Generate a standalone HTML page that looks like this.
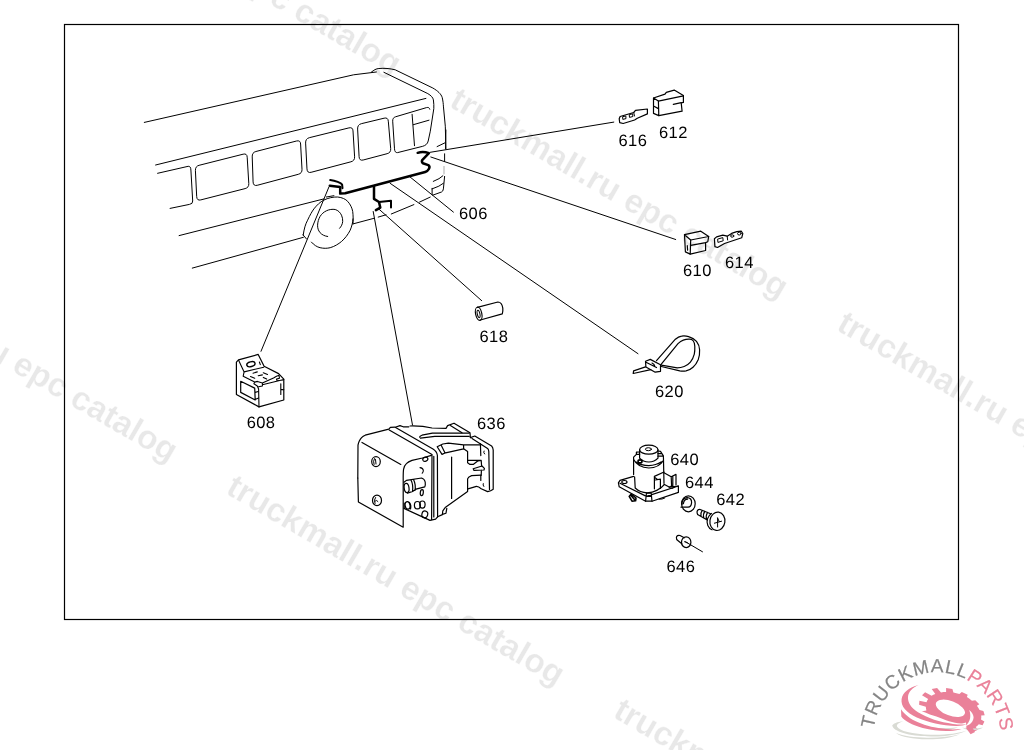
<!DOCTYPE html>
<html><head><meta charset="utf-8"><title>epc catalog</title>
<style>
html,body{margin:0;padding:0;background:#fff;}
body{width:1024px;height:750px;overflow:hidden;position:relative;}
svg{will-change:transform;position:absolute;left:0;top:0;display:block;}
text{text-rendering:geometricPrecision;}
.wm{font-family:"Liberation Sans",sans-serif;font-weight:bold;font-size:33.4px;fill:#e8e8e8;stroke:#fff;stroke-width:0.25px;}
.lb{font-family:"Liberation Sans",sans-serif;font-size:16.5px;fill:#000;letter-spacing:0.4px;}
.ln{fill:none;stroke:#000;stroke-width:1.0;stroke-linecap:round;stroke-linejoin:round;}
.th{fill:none;stroke:#000;stroke-width:2.5;stroke-linecap:round;stroke-linejoin:round;}
.pt{fill:none;stroke:#000;stroke-width:1.2;stroke-linecap:round;stroke-linejoin:round;}
</style></head><body>
<svg width="1024" height="750" viewBox="0 0 1024 750">
<rect x="0" y="0" width="1024" height="750" fill="#fff"/>
<!-- WATERMARKS -->
<g class="wm">
<text transform="translate(448.1,105.7) rotate(30.25)">truckmall.ru epc catalog</text>
<text transform="translate(61.0,-117.8) rotate(30.25)">truckmall.ru epc catalog</text>
<text transform="translate(835.2,329.2) rotate(30.25)">truckmall.ru epc catalog</text>
<text transform="translate(224.6,492.8) rotate(30.25)">truckmall.ru epc catalog</text>
<text transform="translate(-162.5,269.3) rotate(30.25)">truckmall.ru epc catalog</text>
<text transform="translate(611.7,716.3) rotate(30.25)">truckmall.ru epc catalog</text>
</g>
<!-- FRAME -->
<rect x="64.5" y="24.5" width="894" height="595" fill="none" stroke="#000" stroke-width="1.2"/>
<!-- BUS -->
<g class="ln" id="bus">
<path d="M144.3,122.4 L353.6,74.8 L376.4,72"/>
<path d="M371.3,72.2 C374,70 376,68.7 378.9,68.5 C384,68 390,68.5 395.2,69.8 L432.8,88 C438,91 441,94 442.2,97.4 C443,101 443.3,104 443.4,106.1 L445.3,126.2 L445.9,149"/>
<path d="M383.9,72.3 L427.8,93.6 C431,95.5 433,97.5 433.4,99.9 C433.9,103 433.9,106 433.8,108.7 L430.3,131.2 L428.2,141 C427.5,144 425.5,145.5 422.7,146.3 L397.6,152.6 C395.5,152.8 394.7,151.5 394.5,148.8 L392.7,121.2 C392.6,118.5 393.5,117.6 395.5,116.8 L426.5,107.6 C428.5,107.1 429.5,107.8 429.8,109.2"/>
<path d="M412.1,114.3 L414.5,145.7 M413.3,124.7 L429,120.2"/>
<path d="M155.6,165 L425.9,98.4"/>
<path d="M157.6,173.3 L188.2,166.3 Q190.7,166 190.9,170 L192.7,201 Q192.9,204 189.4,204.4 L170.1,208.4"/>
<path d="M195.4,170.3 Q195.2,166.3 199.1,165.3 L243.1,154.2 Q247.0,153.2 247.2,157.2 L248.8,183.6 Q249.0,187.6 245.1,188.6 L200.8,199.9 Q196.9,200.9 196.7,196.9 Z"/>
<path d="M252.2,156.5 Q252.0,152.5 255.9,151.5 L296.5,141.0 Q300.4,140.0 300.6,144.0 L302.0,169.3 Q302.2,173.3 298.3,174.3 L257.2,185.3 Q253.3,186.3 253.1,182.3 Z"/>
<path d="M305.6,142.7 Q305.4,138.7 309.3,137.7 L348.9,127.9 Q352.8,126.9 353.0,130.9 L354.6,156.8 Q354.8,160.8 350.9,161.8 L311.1,172.3 Q307.2,173.3 307.0,169.3 Z"/>
<path d="M357.6,128.7 Q357.4,124.7 361.3,123.7 L384.1,118.2 Q388.0,117.2 388.3,121.2 L390.7,148.7 Q391.0,152.7 387.1,153.7 L363.2,160.0 Q359.3,161.0 359.1,157.0 Z"/>
<path d="M445.9,130 L445.6,148.8 M437.1,146.6 L445,142.8 M444.6,153.8 L444.6,161.3 M444.6,176.4 L443.4,188.9 Q443,191.5 441.5,192 L432.7,195.2"/>
<path d="M444,166.4 L444,173.9" stroke="#aaa"/>
<path d="M433.3,181.4 Q440,178.8 442.9,175.8 M432.1,188.9 Q440,186.3 443.4,183.3 M432.1,188.3 L432.1,194.6"/>
<path d="M430.2,197.1 L419.5,202.1 M413.9,204.6 L391.3,214 M386,214.8 L378.2,217.1 M374,218.3 L353,223.9"/>
<path d="M179.1,235.6 L323.9,198.9 M326.4,197 L333.9,195.7"/>
<path d="M192.3,268.1 L303.4,237.3 M303,234.8 L306.5,239"/>
<path d="M303.2,235.2 C304,229 305.5,224 307.6,220.2 C310,215 312,211.5 313.9,208.9 C317,205 320,202 323.9,200.1 C328,198 333,196.8 337.7,197 C342,197.5 345.5,199 347.7,201.4 C350.5,204.5 352,208 352.7,211.4 C353.3,216 353.2,220 353,223.9"/>
<path d="M311.4,242.1 C314,245 317,247 320.1,247.7 C323.5,248.5 327,248.5 330.2,247.7 C334.5,246.5 338.5,244 341.5,241.5 C345,238.5 348,234.5 350.2,230.2 C352,226 352.8,222 353,218.9"/>
<path d="M327.7,236.5 C324.5,236 322,234.8 320.1,232.7 C318.3,230.5 317.5,228 317.6,225.2 C317.7,222 318.6,219 320.1,216.4 C321.6,214 323.8,212 326.4,210.8 C329,209.5 332.5,209 335.2,209.5 C338,210.3 340.3,212.5 341.5,215.2 C342.4,217.2 342.8,219.3 342.7,221.4 C342.5,224 341.3,226.5 339.6,228.3"/>
</g>
<!-- HARNESS -->
<g class="th" id="harness">
<path d="M417.7,152.8 C421,151.6 426,152 428.9,153.2 L422.2,160.1 C421.6,161.5 422,162.5 422.9,163.2 L428.3,165.1 C429.5,166 429.6,167.8 428.9,168.9 C428,170.5 427,171.5 425.2,172 L345.2,193.3 L340.2,193.6 L340.2,187 L329.8,185.7"/>
<path d="M330.2,180 C333,180.3 335.5,181 337.7,181.9 C340,182.8 341.5,183.5 342.1,184.6 L342.5,188.2" stroke-width="2"/>
<path d="M374,186.3 L374,198.9 L379,202 L380.3,207.6 L375.9,210.1"/>
<path d="M379,202 L391,200.7 L391,207.6" stroke-width="2"/>
</g>
<!-- LEADERS -->
<g class="ln" id="leaders">
<path d="M430.2,152.3 L613.8,122.1"/>
<path d="M430.8,157 L675.7,239.5"/>
<path d="M410.1,177 L453.4,212.1"/>
<path d="M390.1,183.3 L638,353.7"/>
<path d="M378.8,209 L481.7,300.7"/>
<path d="M373.2,211.5 L412.5,425"/>
<path d="M328.9,187 L261,351.3"/>
<path d="M687.2,542.8 L702.5,551.8"/>
</g>
<!-- PARTS -->
<g class="pt" id="parts">
<!-- 612 -->
<path d="M653.5,98 L658.4,101.1 L658.8,115.6 L653.5,113.4 Z M653.5,106 L658.4,108.6"/>
<path d="M658.4,101.1 L683.4,95.8 L683.4,102.4 L681.2,102.9 L682.1,111.2 L658.8,115.6 M673.3,104.4 L681.2,102.7"/>
<path d="M653.5,98 L665,94.1 L666.3,92.3 L674.2,90.1 L683.4,95.6"/>
<!-- 616 -->
<path d="M619.2,118.7 L620.1,116.5 L633.7,112.5 L635.5,110.3 L647.4,109 L647.4,113.9 L637.3,118.3 L634.6,120 L623.2,123.5 L619.7,122.7 Z"/>
<path d="M623,116.6 L625.8,116 L626,118.6 L623.2,119.3 Z M629.6,114.6 L632.6,113.8 L632.9,116.5 L629.9,117.3 Z M633.7,112.5 L634.5,116" stroke-width="1"/>
<!-- 610 -->
<path d="M684.5,234.7 L700.8,231.2 L708.7,236.5 L690.7,240 Z"/>
<path d="M684.5,234.7 L685.4,251.9 L690.2,254.1 L690.7,240 M687.3,245.7 L687.6,250.1"/>
<path d="M708.7,236.5 L707.8,241.7 L705.6,242.6 L705.6,250.5 L690.2,254.1 M690.7,245.3 L705.6,242.6"/>
<!-- 614 -->
<path d="M714.4,238.7 L716.6,236.9 L722.8,235.2 L727.2,236.2 L731.6,233.4 L736.8,231.6 L741.2,231.2 L742.8,233.5 L741.7,237.8 L724.5,243.5 L717.5,247.5 L714.9,246.6 Z"/>
<path d="M718,239 L722.8,237.6 L723.2,240.8 L718.3,242.3 Z M727.2,236.2 L727.6,240" stroke-width="1"/>
<ellipse cx="732.2" cy="236" rx="1.6" ry="1.2" stroke-width="1"/><ellipse cx="739.3" cy="233.6" rx="1.8" ry="1.4" stroke-width="1"/>
<!-- 618 -->
<path d="M477.3,307.3 L497.9,302 C500.5,302 502.3,304.5 502.8,308.1 C503,310.5 502.8,312.5 502.3,313.9 L480.3,320"/>
<ellipse cx="478.7" cy="313.8" rx="3.1" ry="6.7" transform="rotate(-12 478.7 313.8)"/>
<ellipse cx="478.6" cy="313.9" rx="1.3" ry="3.8" transform="rotate(-12 478.6 313.9)" stroke-width="1"/>
<!-- 620 -->
<path d="M656.5,360.7 L675.4,339.2 C677.5,337.3 679.5,336.3 681.6,336.1 C684,335.8 686.5,336 688.6,336.6 C692,337.6 694.8,339.3 696.5,341.4 C698.5,344 699.5,346.8 699.6,349.7 C699.8,353 699.3,356.5 698.3,359.4 C697,362.5 695.3,365.2 693,367.3 C691,369.2 688.7,370.4 686,370.9 C684,371.2 682,371.2 679.8,370.9 L661.3,366.5"/>
<path d="M660.9,364.7 L678,343.6 C679.8,341.8 681.5,340.7 683.3,340.1 C685.3,339.4 687.5,339.1 689.5,339.2 C691,339.3 692.2,339.7 693,340.5 C694.2,342 694.7,344 694.8,346.2 C694.9,349 694.8,351.7 694.3,354.1 C693.5,357.2 692.2,359.9 690.4,362.1 C688.7,364.1 686.6,365.6 684.2,366.5 C682,367.3 679.6,367.8 677.2,367.8 L661.3,365.1"/>
<path d="M645.5,361.2 L650.3,359.4 L660.5,364.7 L660.5,371.3 L655.2,372.2 L645.9,366.9 Z M646.5,362.5 L656.5,367.5 M652,363 Q654.5,364 654.8,366.3"/>
<path d="M645.5,366.9 L633.6,370.9 L633.2,373.5 L650.8,369.6"/>
<!-- 636 -->
<g id="p636">
<path d="M357.8,478 L358,445.2 C358.3,443.5 358.7,442.3 359.2,441.2 C360,439.6 360.7,438.5 361.6,437.6 C362.7,436.5 364,435.7 365.2,435.2 L388.8,429.2 L390.4,427.4 L395.2,427.2 L400,425.6 L403.2,426.8 L408.8,426.8"/>
<path d="M357.8,478 L358.4,502 L403.2,527.2 L403.2,478 C403.2,474 403.3,471 403.6,469.2 C404.2,466.5 405,464.8 406.4,463.6 C408,462 409.8,461.2 412,460.4 L422.4,458 L431.4,455.4"/>
<path d="M362,442.4 L400.8,464.4"/>
<path d="M389.2,430 L432,454.4 M395.6,427.6 L433,449 Q437,451.5 437.4,455.5 L437.6,517"/>
<path d="M432,455.2 L431.6,519.6 M433.8,456.4 L433.8,517" />
<path d="M410,426 C418,425.8 426,426.6 432,428 L446,428.4 L447.6,425.6 L454,423.2 L470,432.8 L470.4,437.6 M450.4,425.6 L462,432.8"/>
<path d="M419.6,437.2 C419.8,435.9 421,435.5 422,435.2 L432.4,433.2 L469.2,433.2 M420.5,438.2 L434.8,436.4 L469.2,436.4"/>
<path d="M470.4,437.6 L474.8,436 L491.6,446 Q493,447.5 493.2,450 L493.2,489.2 Q491,491 487.6,491.6 L481.2,488.8 Q478.5,486.3 476.4,486.4 L468,488.8"/>
<path d="M472,438.4 L487.6,448.4 Q488.7,449.5 488.8,451.6 L489.5,489.5 M480.4,443.6 L480.8,455.6"/>
<path d="M437.2,446.8 L442.8,444 L448.4,443.2 L463.6,444.8 L480.4,444.8 M437.2,446.8 L442,454.4 L445.6,452.8 L463.6,448.8 L463.6,444.8 M441.2,445.2 L444.8,452.4"/>
<path d="M463.6,448.8 L467.6,451.6 L467.6,462.8 L470,464.4 L473.2,464.4 L478,460.8 L481.2,460.4 L481.6,466 M468.4,460.4 L481.2,460.4"/>
<path d="M473.2,468.8 L482,466 L484.4,468.4 L484,470 L474,470.4 Z M481.4,470.2 L481.2,475.2 M480.8,475.2 L480.8,480.4"/>
<path d="M481.2,475.2 L471.6,475.6 Q468,477 467.6,478.8 L467.6,491.6 L445.2,507.6 L442.8,510.8 L442.4,514.4 L446,513.2 L446.8,508.4 M442.4,514.6 L437.6,516.8 L435.6,519.2 L430,520.4 L404,508.4"/>
<path d="M451.6,457.2 L451.6,498.4"/>
<ellipse cx="376" cy="461.6" rx="4.3" ry="5"/><path d="M374.5,458.5 Q372.8,461 374,464.5 M375.5,459.5 L376,464" stroke-width="1"/>
<ellipse cx="377" cy="500.4" rx="4.5" ry="5.2"/><path d="M375.5,497.5 Q373.5,500 375,503.5 M375,501 Q377,499.5 378,501.5" stroke-width="1"/>
<ellipse cx="425.3" cy="459.2" rx="2.6" ry="2" transform="rotate(-20 425.3 459.2)"/>
<path d="M420,467.6 Q423,468 423.3,470.2 Q423.4,472.5 422.2,473.2" stroke-width="1.1"/>
<path d="M404,482.3 L406.4,480.4 L421.6,478 Q424.6,479 425.2,482 Q425.6,485 424.8,486.8 L416,489.2 Q412,492.5 407.5,493.2 M411,480 Q413.5,485 412.5,491.5 M413.5,479.5 Q416,484.5 415,490.5"/>
<ellipse cx="406.6" cy="488" rx="2.4" ry="4.6" transform="rotate(-8 406.6 488)"/>
<ellipse cx="421.8" cy="492.6" rx="1.5" ry="3" transform="rotate(8 421.8 492.6)"/>
<ellipse cx="407.6" cy="505.4" rx="2.4" ry="3.8" transform="rotate(-10 407.6 505.4)"/><path d="M404.2,503 L404.2,508 M409.5,502.5 Q411.5,505 410.5,509"/>
<ellipse cx="417.4" cy="505.2" rx="3" ry="3.7"/><ellipse cx="422.4" cy="504.6" rx="2.7" ry="3.6"/>
<ellipse cx="424.8" cy="514.4" rx="2.9" ry="3.4" transform="rotate(15 424.8 514.4)"/>
<path d="M421.2,470 L423.6,470 L423.6,472.6" stroke-width="1" opacity="0"/>
<path d="M484,451 Q483,452.5 484.6,454 M483.2,483.6 Q482.5,485 483.8,486.5" stroke-width="1"/>
</g>
<!-- 640 -->
<g id="p640">
<ellipse cx="648.8" cy="449.7" rx="9.2" ry="4.5"/>
<ellipse cx="648.4" cy="449.2" rx="3" ry="1.5" stroke-width="1"/>
<path d="M639.6,449.8 L639.6,458.2 Q643,462 648.8,462 Q654.5,462 658,458.2 L658,449.8"/>
<path d="M639.6,452 L636.4,452.2 L636.4,454.4 L633.6,457.2 L633.6,474.4 M636.4,454.4 L639.6,454.4 M658,451 L660.5,451.4 L663.4,455.8 L664,483.2 M658,453.6 L662,453.6 M658,456.2 L663.4,456.2"/>
<path d="M633.6,459.5 Q638,467.6 648.8,468 Q659,467.8 663.4,460.5 M636,462 Q641,465.6 648.8,465.6 Q656,465.5 661.5,461.8"/>
<ellipse cx="640" cy="461.4" rx="2" ry="1.5" stroke-width="1.6"/>
<path d="M634.6,476.8 L635.2,488 Q640,492.6 647.2,492.8 Q652.5,492.6 656.8,490.4 Q661.5,488 664,484.8"/>
<path d="M633.6,476.4 L620,480.4 L618.4,482.8 L619.2,486.8 L645.6,501.2 L652,501.2 L678.4,492.4 L678.4,486 L669.6,487.2 L664,484.2"/>
<path d="M620,483.2 L646.4,496.4 L678.4,486 M646.4,493.2 L651.2,493.2 M646.4,496.4 L651.4,496.4 M646.4,493.2 L645.6,501.2 M651.2,493.2 L652,501.2"/>
<ellipse cx="624.4" cy="482" rx="2.6" ry="1.5"/>
<path d="M654.4,476.4 L654.4,488.8 M654.4,476.4 L664,472 M655.2,480 L660.4,479.2 L660.4,488.4 M654.8,477.5 L657.5,479.5"/>
<path d="M664,472.8 L671.2,476.8 L671.6,486.4 M671.2,476.8 L676,474.4 L676,484.8 M672.8,476 L672.8,486"/>
<ellipse cx="671.6" cy="487.3" rx="2.4" ry="1.1" stroke-width="1"/>
<path d="M629.2,496.4 L631.2,494 L636,498 L635.6,500.8 L632,501.2 Z M631,495.5 L634.5,499.5" stroke-width="1.6"/>
<path d="M659.2,499.2 Q662,499.6 664.8,498" stroke-width="1"/>
</g>
<!-- 644 -->
<ellipse cx="688.4" cy="503.8" rx="6.8" ry="8"/>
<path d="M682,504.6 C681.6,500.8 683.8,497.8 687,497.6 C690.2,497.5 691.8,499.8 691.6,502.6 C691.4,505.2 690.2,507 688,507.2 L681,507.2 M683.4,503.6 C683.8,500.8 685.6,499.2 687.6,499.2"/>
<!-- 642 -->
<ellipse cx="717.4" cy="521.3" rx="7.5" ry="9.2" transform="rotate(8 717.4 521.3)"/>
<path d="M711.5,513.5 C707.5,516 706,521.5 707.8,525.5 C708.8,527.8 710.3,529.2 712,529.8"/>
<path d="M699.6,509.3 L710.6,513.8 M697.6,514.6 L707.2,520 M699.6,509.3 C697.8,509.3 696.8,511 697.1,512.8 C697.3,513.8 697.6,514.3 697.8,514.7 M702.2,510.3 Q700.2,513 701,516.4 M704.8,511.4 Q702.8,514.2 703.8,518 M707.5,512.5 Q705.5,515.4 706.6,519.6"/>
<path d="M717.6,518 L717.6,527 M714.4,523.2 L721.6,521.2 M717.6,518 L719.2,521.5" stroke-width="1"/>
<!-- 646 -->
<ellipse cx="686.2" cy="542.2" rx="4.7" ry="5.4"/>
<path d="M684.3,537.8 L680,535.5 C678.2,534.9 676.6,535.8 676.4,537.5 C676.3,538.9 676.9,539.9 677.8,540.5 L681.8,543.8 M684.8,541.6 L687.2,542.8"/>
<!-- 608 -->
<path d="M236.4,362.1 L238.5,359.9 L258.2,354.4 L264.1,366.3 L278.6,373.6 L283.8,379.1 L283.8,400 L259,406.9 L236.4,394.5 Z"/>
<path d="M238.6,360.3 L244.1,371.9 L263.7,367.2 M244.1,371.9 L243.2,376.2 L254.7,382.1 L253.9,383.8 L257.3,386 L258.6,389 L259,406.9 M262.4,383 L262.4,386 L258.6,386.8 M262.4,384.7 L283.8,379.5 M254.7,382.1 L257.5,381.4 L262.4,383 L273.5,377.9 L276.5,376.2 L279,375.3 L279.5,378.3 L276.5,379.1 L277,380.8 L283.3,380" stroke-width="1.1"/>
<ellipse cx="250.9" cy="364.2" rx="4.2" ry="2.4" transform="rotate(-15 250.9 364.2)" stroke-width="1.4"/>
<path d="M259.4,362 L260.3,364.6" stroke-width="1.1"/>
<path d="M240.7,381.3 L254.7,388.1 L255.2,400 L240.7,392.4 Z M255.2,392.4 L258.2,391.5 M255.6,399.2 L258.6,398"/>
<path d="M253,373.2 L257.3,371.9 M263.3,372.7 L267.5,374.5 M250.5,376.6 L254.7,378.3 M258.2,375.7 L262.4,374.9 M263.3,377.4 L266.7,379.1" stroke-width="1.1"/>
<path d="M280.8,383.8 L280.8,394.5 M280.8,389.4 L283.8,389.8" stroke-width="1.1"/>
</g>
<!-- LABELS -->
<g class="lb" id="labels">
<text x="459" y="218.7">606</text>
<text x="618.5" y="145.6">616</text>
<text x="659" y="137.8">612</text>
<text x="683" y="275.6">610</text>
<text x="725" y="267.7">614</text>
<text x="479.5" y="341.6">618</text>
<text x="655" y="397">620</text>
<text x="246.7" y="428">608</text>
<text x="477" y="428.7">636</text>
<text x="670.3" y="464.5">640</text>
<text x="685" y="487.5">644</text>
<text x="716.3" y="504.5">642</text>
<text x="666.5" y="571.5">646</text>
</g>
<!-- LOGO -->
<g id="logo">
<path id="arc" d="M873.2,737.3 A63.8,65 0 0 1 1000.8,737.3" fill="none"/>
<path d="M977.4,725.7 L975.7,727.1 L977.9,729.7 L973.5,731.8 L970.3,729.7 L967.8,730.4 L965.0,730.8 L965.5,733.4 L959.5,733.5 L957.6,730.9 L954.5,730.5 L951.4,729.9 L950.0,731.9 L943.7,729.9 L943.5,727.4 L940.6,726.0 L937.8,724.5 L935.0,725.6 L929.9,722.0 L932.1,719.7 L930.4,717.7 L928.9,715.7 L923.8,715.8 L921.1,711.4 L926.4,710.5 L926.0,708.6 L925.8,706.7 L919.1,704.8 L919.4,700.7 L926.5,702.2 L927.2,700.6 L928.2,699.1 L922.0,695.2 L925.1,692.2 L931.6,695.8 L933.3,694.8 L935.3,693.9 L931.7,689.0 L937.1,687.9 L941.0,692.4 L943.5,692.1 L946.1,692.0 L946.1,687.9 L952.4,688.9 L953.4,692.6 L956.4,693.2 L959.4,694.0 L961.8,691.9 L967.7,694.8 L966.9,697.1 L969.5,698.8 L971.9,700.7 L975.3,700.2 L979.3,704.3 L976.9,705.8 L978.4,707.9 L979.6,710.1 L983.4,710.9 L984.7,715.3 L981.2,715.6 L981.3,717.6 L981.0,719.6 L984.4,721.5 L982.6,725.2 L978.8,724.2Z" fill="#ea8199"/>
<ellipse cx="950.4" cy="708.3" rx="15.4" ry="7.2" transform="rotate(21 950.4 708.3)" fill="#fff"/>
<path d="M969.2,710 C971.6,712 973.4,714.6 973.6,717.2 C973.6,720 972,722.6 969.4,724.4 L965.4,726.2 C968,723.6 969.6,721 970.1,718.2 C970.6,715.2 970.2,712.6 969.2,710Z" fill="#fff"/>
<path d="M900,700 L912,703 C914,707 918,710 922.7,711.6 C928,714 932,715.2 936.4,716.6 C941,718.4 945,720 949,721.2 C953,722.4 957,723.2 961,723.4 C963,723.6 964.6,723.2 966,722.6 L966.4,727 L975,746 L888,746 Z" fill="#fff"/>
<g fill="#d9dbd4">
<path d="M892.2,725.6 C893,723.5 897,721.8 903.5,721.2 C898,722.8 896.5,724.6 897,726.5 C899,731 912,734 931,734.8 C945,735.2 958,733.6 967,730.6 C958,735 945,736.8 931,736.6 C908,736.2 893.5,731.5 892.2,725.6Z"/>
<path d="M896,733 C903,736.2 915,737.6 927,737.7 C940,737.8 951,736.6 960,734.2 C951,738 940,739.4 927,739.3 C913,739.1 901,737 896,733Z"/>
<path d="M921,726.5 C930,727.8 945,729 958,727.2 C950,731.5 932,731 921,726.5Z"/>
<path d="M962,727.5 C968,728.8 976,728.8 983,727.6 C978,731.2 968,731.4 962,727.5Z"/>
</g>
<path d="M965.6,727.4 L972.4,727.6 L975,732 L970.6,734.2 Z" fill="#ea8199"/>
<path d="M918.6,685 C909,687.6 902.8,692.2 901.6,699 C900.6,706 906,712.6 916.8,717.4 C928,722.4 942,725.4 956.7,725.9 C961,725.9 964,725.3 966.5,724.2 C962,724.6 958,724.5 953,723.9 C940,722.2 927.5,718.2 918,712.3 C911,707.8 907.6,702.5 908,697 C908.4,691.8 912.6,687.5 918.6,685Z" fill="#ea8199"/>
<path d="M901,709.2 L901.3,716.6 C904.5,721 912,725.2 922.7,728.1 C932,730.5 942,731.2 949.6,730.9 C954.5,730.6 958.5,729.9 961.5,728.9 C956,729.5 951,729.5 946,729.1 C936,728.2 926,725.8 918,722.3 C910.5,719 904.5,714.5 901,709.2Z" fill="#ea8199"/>
<text font-family="'Liberation Sans',sans-serif" font-size="19" letter-spacing="0.8" fill="#858585" stroke="#858585" stroke-width="0.2"><textPath href="#arc" startOffset="8.5">TRUCKMALL<tspan fill="#ea8199" stroke="#ea8199">PARTS</tspan></textPath></text>
</g>
</svg>
</body></html>
